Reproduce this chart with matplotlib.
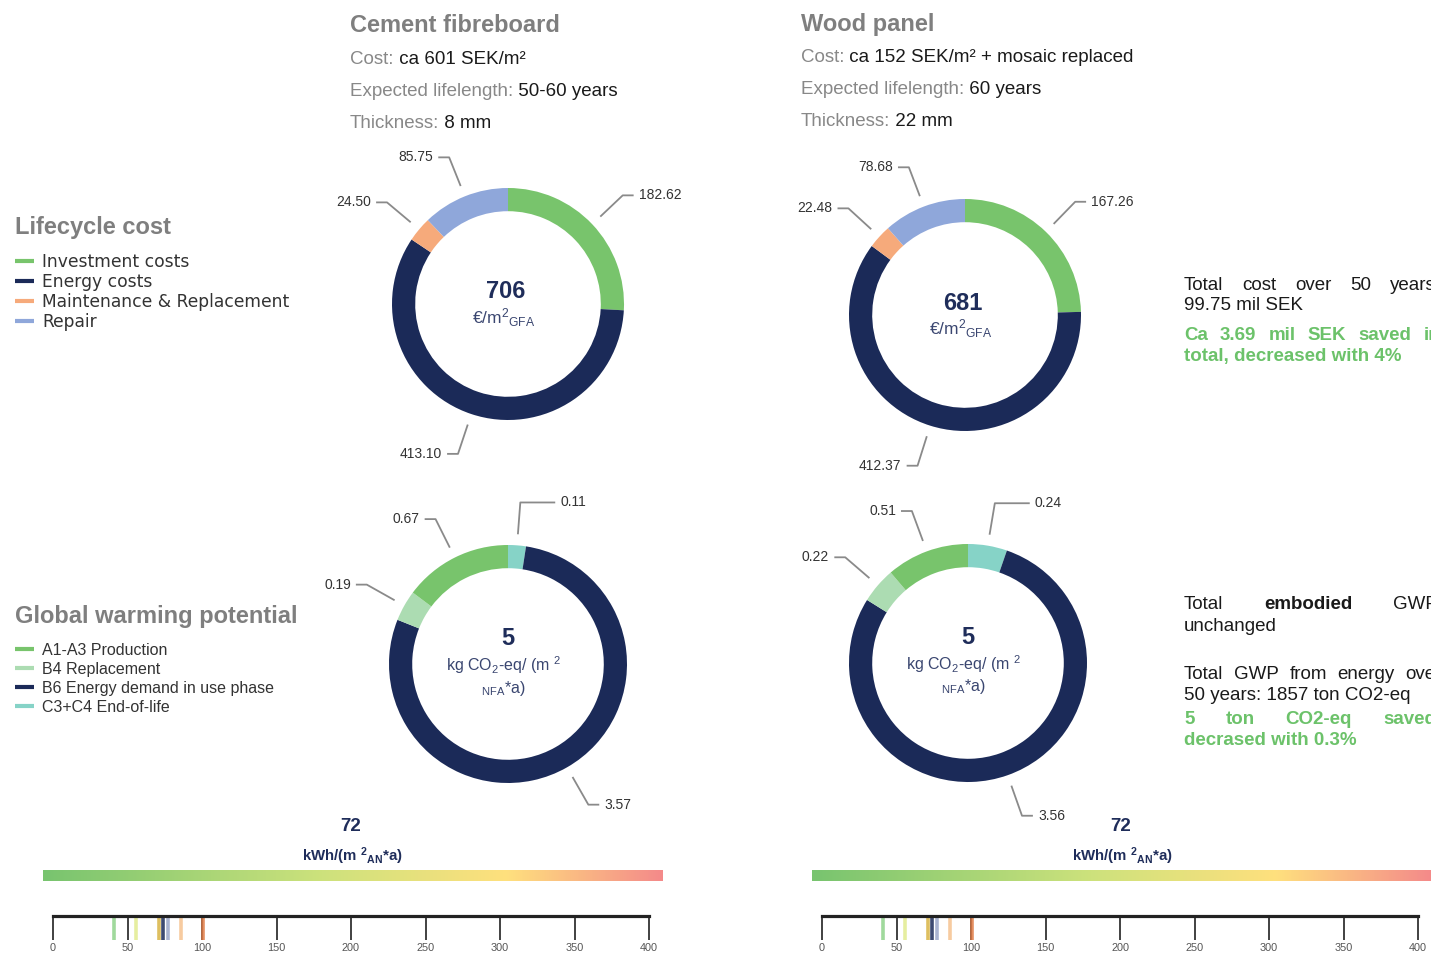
import numpy as np
import matplotlib
matplotlib.use('Agg')
import matplotlib.pyplot as plt
from matplotlib.colors import LinearSegmentedColormap

plt.rcParams['font.family'] = ['Liberation Sans', 'DejaVu Sans']
plt.rcParams['mathtext.fontset'] = 'custom'
plt.rcParams['mathtext.rm'] = 'Liberation Sans'
plt.rcParams['mathtext.bf'] = 'Liberation Sans:bold'
plt.rcParams['mathtext.it'] = 'Liberation Sans:italic'

W, H = 1431, 955

# ---- data ----
lcc_labels = ['Investment costs', 'Energy costs', 'Maintenance & Replacement', 'Repair']
lcc_colors = ['#78c46c', '#1b2a58', '#f6aa7b', '#8fa7da']
lcc_cement = [182.62, 413.10, 24.50, 85.75]
lcc_wood = [167.26, 412.37, 22.48, 78.68]
lcc_totals = ['706', '681']

gwp_labels = ['A1-A3 Production', 'B4 Replacement', 'B6 Energy demand in use phase', 'C3+C4 End-of-life']
gwp_colors = ['#78c46c', '#acdcb2', '#1b2a58', '#86d3c7']
gwp_cement = [0.67, 0.19, 3.57, 0.11]
gwp_wood = [0.51, 0.22, 3.56, 0.24]
gwp_ring_order = [3, 2, 1, 0]   # clockwise from top
gwp_totals = ['5', '5']

energy_value = '72'
scale_ticks = [0, 50, 100, 150, 200, 250, 300, 350, 400]
scale_marks = [41, 56, 71, 74, 77, 86, 101]
mark_colors = ['#8fd38b', '#e2ec90', '#d9b444', '#1b2a58', '#9aa6c8', '#f6c28f', '#e07b45']

titles = ['Cement fibreboard', 'Wood panel']
cement_info = [('Cost:', 'ca 601 SEK/m²'), ('Expected lifelength:', '50-60 years'), ('Thickness:', '8 mm')]
wood_info = [('Cost:', 'ca 152 SEK/m² + mosaic replaced'), ('Expected lifelength:', '60 years'),
             ('Thickness:', '22 mm')]

NAVY = '#1f2d5a'
GREEN = '#6cc26a'
GREY = '#7f7f7f'

fig = plt.figure(figsize=(W / 100, H / 100), dpi=100)
ax = fig.add_axes([0, 0, 1, 1])
ax.set_xlim(0, W)
ax.set_ylim(H, 0)
ax.axis('off')
renderer = fig.canvas.get_renderer()


def header(x, y, title, info):
    ax.text(x, y, title, fontsize=17, fontweight='bold', color=GREY, va='center')
    for i, (k, v) in enumerate(info):
        t = ax.text(x, y + 33 + 32 * i, k, fontsize=13.5, color='#888888', va='center')
        ax.annotate(' ' + v, xy=(1, 0.5), xycoords=t, fontsize=13.5, color='#1a1a1a', va='center')


header(350, 26, titles[0], cement_info)
header(801, 24, titles[1], wood_info)


def legend(y, title, labels, colors, ty, step, size, fam):
    ax.text(15, y, title, fontsize=17, fontweight='bold', color=GREY, va='center')
    for i, (lab, col) in enumerate(zip(labels, colors)):
        yy = ty + step * i
        ax.plot([15, 34], [yy, yy], color=col, lw=3, solid_capstyle='butt')
        ax.text(42, yy + 1, lab, fontsize=size, color='#333333', va='center', family=fam)


legend(227, 'Lifecycle cost', lcc_labels, lcc_colors, 261, 20, 12.3, 'DejaVu Sans')
legend(616, 'Global warming potential', gwp_labels, gwp_colors, 649, 19, 11.5, 'Liberation Sans')


def donut(cx, cy, R, values, colors, width, r_elbow):
    L = 1.8
    a = fig.add_axes([(cx - L * R) / W, (H - cy - L * R) / H, 2 * L * R / W, 2 * L * R / H])
    wedges, _ = a.pie(values, colors=colors, startangle=90, counterclock=False, radius=1,
                      wedgeprops=dict(width=width, linewidth=0))
    a.set_xlim(-L, L)
    a.set_ylim(-L, L)
    a.axis('off')
    for w, v in zip(wedges, values):
        mid = np.deg2rad((w.theta1 + w.theta2) / 2)
        c, s = np.cos(mid), np.sin(mid)
        r0, r1 = 1 + 12 / R, 1 + r_elbow / R
        side = 1 if c >= 0 else -1
        h = (34 if abs(c) < 0.25 else 10) / R
        x1, y1 = r1 * c, r1 * s
        x2 = x1 + side * h
        a.plot([r0 * c, x1, x2], [r0 * s, y1, y1], color='#8a8a8a', lw=1.3, clip_on=False)
        a.text(x2 + side * 6 / R, y1, f'{v:.2f}', ha='left' if side > 0 else 'right', va='center',
               fontsize=10, color='#333333')
    return a


for cx, cy, vals, tot in [(508, 304, lcc_cement, lcc_totals[0]), (965, 315, lcc_wood, lcc_totals[1])]:
    R = 116
    a = donut(cx, cy, R, vals, lcc_colors, 0.2, 42)
    a.text(-2 / R, 12 / R, tot, ha='center', va='center', fontsize=17, fontweight='bold', color=NAVY)
    a.text(-4 / R, -14 / R, '€/m$^{2}$$_{\\mathrm{GFA}}$', ha='center', va='center', fontsize=12.5,
           color='#3a4670')

for cx, cy, vals, tot in [(508, 664, gwp_cement, gwp_totals[0]), (968, 663, gwp_wood, gwp_totals[1])]:
    R = 119
    vals_o = [vals[i] for i in gwp_ring_order]
    cols_o = [gwp_colors[i] for i in gwp_ring_order]
    a = donut(cx, cy, R, vals_o, cols_o, 0.195, 43)
    a.text(0, 26 / R, tot, ha='center', va='center', fontsize=17, fontweight='bold', color=NAVY)
    a.text(-4 / R, -1 / R, 'kg CO$_{2}$-eq/ (m $^{2}$', ha='center', va='center', fontsize=11.5,
           color='#3a4670')
    a.text(-5 / R, -24 / R, '$_{\\mathrm{NFA}}$*a)', ha='center', va='center', fontsize=11.5,
           color='#3a4670')


# ---- justified notes on the right ----
def justify(words, y, x0, x1, color, weights, size=13.5):
    ts = [ax.text(0, y, w, fontsize=size, color=color, fontweight=wt, va='center') for w, wt in zip(words, weights)]
    widths = [t.get_window_extent(renderer).width for t in ts]
    gap = (x1 - x0 - sum(widths)) / (len(ts) - 1)
    x = x0
    for t, wd in zip(ts, widths):
        t.set_x(x)
        x += wd + gap


XR0, XR1 = 1184, 1436
justify('Total cost over 50 years'.split(), 285, XR0, XR1, '#1a1a1a', ['normal'] * 5)
ax.text(XR0, 305, '99.75 mil SEK', fontsize=13.5, color='#1a1a1a', va='center')
justify('Ca 3.69 mil SEK saved in'.split(), 335, XR0, XR1 + 4, GREEN, ['bold'] * 6)
ax.text(XR0, 356, 'total, decreased with 4%', fontsize=13.5, color=GREEN, fontweight='bold', va='center')

justify(['Total', 'embodied', 'GWP'], 604, XR0, XR1 + 2, '#1a1a1a', ['normal', 'bold', 'normal'])
ax.text(XR0, 626, 'unchanged', fontsize=13.5, color='#1a1a1a', va='center')
justify('Total GWP from energy over'.split(), 674, XR0, XR1 + 6, '#1a1a1a', ['normal'] * 5)
ax.text(XR0, 695, '50 years: 1857 ton CO2-eq', fontsize=13.5, color='#1a1a1a', va='center')
justify('5 ton CO2-eq saved'.split(), 719, XR0, XR1, GREEN, ['bold'] * 4)
ax.text(XR0, 740, 'decrased with 0.3%', fontsize=13.5, color=GREEN, fontweight='bold', va='center')

# ---- energy scales ----
grad = LinearSegmentedColormap.from_list('g', [(0, '#78c46f'), (0.45, '#cde27c'), (0.75, '#ffe07e'),
                                                (1, '#f48a8a')])
for x0, tx in [(53, 351), (822, 1121)]:
    ax.text(tx, 826, energy_value, fontsize=13.5, fontweight='bold', color=NAVY, ha='center', va='center')
    ax.text(tx + 1, 856, 'kWh/(m $^{\\mathbf{2}}$$_{\\mathbf{AN}}$*a)', fontsize=10.8, fontweight='bold',
            color=NAVY, ha='center', va='center')
    ax.imshow(np.linspace(0, 1, 256)[None, :], cmap=grad, aspect='auto',
              extent=(x0 - 10, x0 + 610, 881, 870), zorder=1)
    sax = fig.add_axes([x0 / W, (H - 940) / H, 596 / W, 24 / H])
    sax.set_xlim(0, 400)
    sax.set_ylim(0, 1)
    sax.patch.set_alpha(0)
    for sp in ['left', 'right', 'bottom']:
        sax.spines[sp].set_visible(False)
    sax.spines['top'].set_linewidth(2.3)
    sax.spines['top'].set_color('#222222')
    sax.set_yticks([])
    sax.set_xticks(scale_ticks)
    sax.tick_params(axis='x', direction='in', length=17, width=1.3, color='#333333', labelsize=7.8,
                    labelcolor='#555555', pad=2)
    sax.vlines(scale_marks, 0, 0.93, colors=mark_colors, lw=2.6, alpha=0.85)

ax.set_xlim(0, W)
ax.set_ylim(H, 0)

fig.savefig('out.png', dpi=100)
